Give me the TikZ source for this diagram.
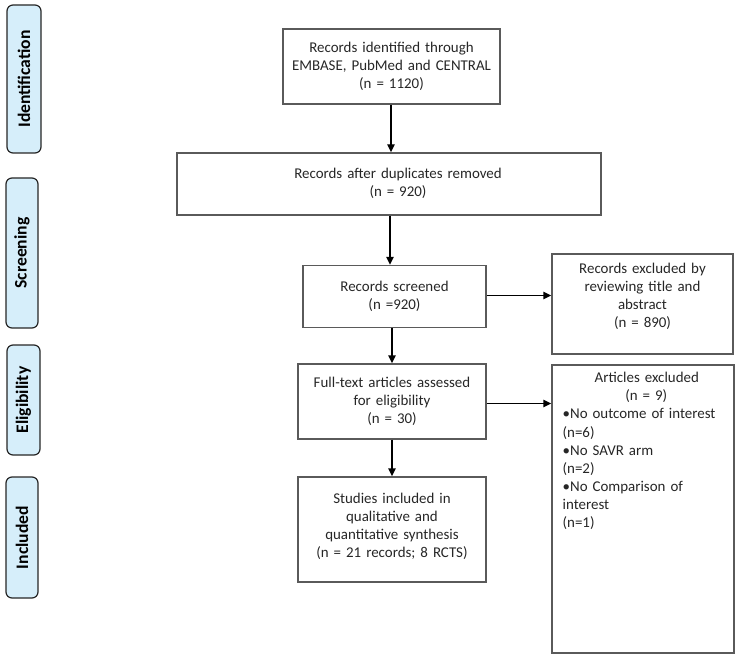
\documentclass[tikz,border=0pt]{standalone}
\usepackage{fontspec}
\setmainfont{Carlito}
\usetikzlibrary{arrows.meta}
\definecolor{boxline}{HTML}{5A5A5A}
\definecolor{stagefill}{HTML}{D6EEFA}
\definecolor{txt}{HTML}{262626}
\begin{document}
\hyphenpenalty=10000\relax
\exhyphenpenalty=10000\relax
\begin{tikzpicture}[x=0.75pt,y=-0.75pt,
  box/.style={draw=boxline,line width=1.1pt,rectangle,inner sep=0pt,align=center,text=txt,font=\fontsize{11.2}{13.6}\selectfont},
  stage/.style={draw=black!85,fill=stagefill,line width=0.9pt,rounded corners=4.5pt,inner sep=0pt,text=black,font=\bfseries\fontsize{13.2}{14}\selectfont,rotate=90},
  arr/.style={line width=1.1pt,-{Triangle[length=6pt,width=5.5pt]}}]
\useasboundingbox (0,0) rectangle (739,659);
% stage labels
\node[stage,minimum width=148*0.75pt,minimum height=34*0.75pt] (s1) at (24,79) {Identification};
\node[stage,minimum width=150*0.75pt,minimum height=32*0.75pt] (s2) at (22,253) {Screening};
\node[stage,minimum width=110*0.75pt,minimum height=33*0.75pt] (s3) at (23.5,400) {Eligibility};
\node[stage,minimum width=121*0.75pt,minimum height=32*0.75pt] (s4) at (22,537.5) {Included};
% main boxes
\node[box,minimum width=217*0.75pt,minimum height=75*0.75pt,text width=205*0.75pt] (b1) at (391.5,66.5)
  {Records identified through\\EMBASE, PubMed and CENTRAL\\(n = 1120)};
\node[box,minimum width=424*0.75pt,minimum height=62*0.75pt] (b2) at (389,184) {};
\node[box,draw=none,text width=300*0.75pt] (b2t) at (398,183)
  {Records after duplicates removed\\(n = 920)};
\node[box,minimum width=183*0.75pt,minimum height=62*0.75pt,text width=170*0.75pt] (b3) at (394.5,296.5)
  {Records screened\\(n =920)};
\node[box,minimum width=188*0.75pt,minimum height=75*0.75pt,text width=180*0.75pt] (b4) at (392,401.5)
  {Full-text articles assessed\\for eligibility\\(n = 30)};
\node[box,minimum width=188*0.75pt,minimum height=105*0.75pt] (b5) at (392,529.5) {};
\node[box,draw=none,anchor=north,text width=180*0.75pt] (b5t) at ([yshift=-12pt]b5.north)
  {Studies included in\\qualitative and\\quantitative synthesis\\(n = 21 records; 8 RCTS)};
% exclusion boxes
\node[box,minimum width=181*0.75pt,minimum height=100*0.75pt] (e1) at (642.5,304) {};
\node[box,draw=none,anchor=north,text width=175*0.75pt] (e1t) at ([yshift=-6.5pt]e1.north)
  {Records excluded by\\reviewing title and\\abstract\\(n = 890)};
\node[box,minimum width=182*0.75pt,minimum height=288*0.75pt] (e2) at (643,509) {};
\node[box,draw=none,anchor=north west,align=left,text width=170*0.75pt] (e2t) at ([xshift=8pt,yshift=-5.5pt]e2.north west)
  {\hspace*{24pt}Articles excluded\\\hspace*{47pt}(n = 9)\\\textbullet No outcome of interest\\(n=6)\\\textbullet No SAVR arm\\(n=2)\\\textbullet No Comparison of\\interest\\(n=1)};
% connectors
\coordinate (ax) at (391,0);
\coordinate (bx) at (390,0);
\coordinate (cx) at (392,0);
\draw[arr] (b1.south -| ax) -- (b2.north -| ax);
\draw[arr] (b2.south -| bx) -- (b3.north -| bx);
\draw[arr] (b3.south -| cx) -- (b4.north -| cx);
\draw[arr] (b4.south -| cx) -- (b5.north -| cx);
\draw[arr] (b3.east |- 0,295.5) -- (e1.west |- 0,295.5);
\draw[arr] (b4.east |- 0,403.5) -- (e2.west |- 0,403.5);
\end{tikzpicture}
\end{document}
